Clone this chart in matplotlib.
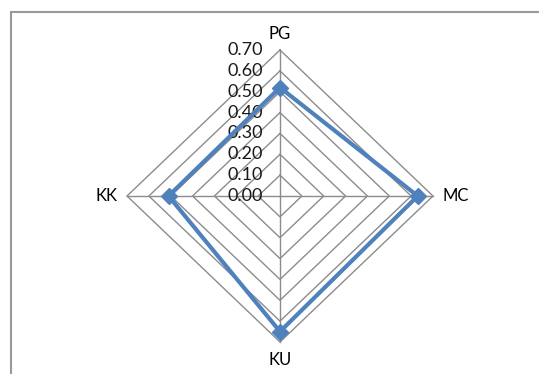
import numpy as np
import matplotlib.pyplot as plt
from matplotlib.patches import Rectangle

plt.rcParams['font.family'] = ['Lato', 'DejaVu Sans']

# radar data
categories = ['PG', 'MC', 'KU', 'KK']
values = [0.52, 0.63, 0.65, 0.51]
levels = [0.00, 0.10, 0.20, 0.30, 0.40, 0.50, 0.60, 0.70]
level_labels = ['%.2f' % v for v in levels]

W, H = 539, 374
fig = plt.figure(figsize=(W / 100, H / 100), dpi=100)
ax = fig.add_axes([0, 0, 1, 1])
ax.set_axis_off()

# pixel layout of the chart area
cx, cy = 280, 178          # centre (px from left / bottom)
rx, ry = 153, 146          # px for the 0.70 ring
rmax = levels[-1]
ax.set_xlim(-cx * rmax / rx, (W - cx) * rmax / rx)
ax.set_ylim(-cy * rmax / ry, (H - cy) * rmax / ry)

# spoke directions: top, right, bottom, left
dirs = np.array([[0, 1], [1, 0], [0, -1], [-1, 0]])

grid_col = '#8c8c8c'
for lv in levels[1:]:
    pts = np.vstack([dirs * lv, dirs[:1] * lv])
    ax.plot(pts[:, 0], pts[:, 1], color=grid_col, lw=1.0, zorder=1)
for d in dirs:
    ax.plot([0, d[0] * rmax], [0, d[1] * rmax], color=grid_col, lw=1.0, zorder=1)

# value axis labels along the top spoke
for lv, lab in zip(levels, level_labels):
    ax.text(-0.08, lv, lab, ha='right', va='center', fontsize=13,
            color='#1a1a1a', zorder=2)

# series
pts = np.array([d * v for d, v in zip(dirs, values)])
closed = np.vstack([pts, pts[:1]])
ax.plot(closed[:, 0], closed[:, 1], color='#4f81bd', lw=3.0, zorder=3,
        solid_joinstyle='miter')
ax.plot(pts[:, 0], pts[:, 1], ls='none', marker='D', ms=8,
        color='#4f81bd', zorder=4)

# category labels
off = 0.045
ax.text(0, rmax + 0.075, categories[0], ha='center', va='center', fontsize=12)
ax.text(rmax + off, 0, categories[1], ha='left', va='center', fontsize=12)
ax.text(0, -rmax - 0.085, categories[2], ha='center', va='center', fontsize=12)
ax.text(-rmax - off, 0, categories[3], ha='right', va='center', fontsize=12)

# chart frame (runs off the right and bottom edges)
fig.add_artist(Rectangle((11 / W, -0.05), 1.1, (H - 12) / H + 0.05,
                         transform=fig.transFigure, fill=False,
                         edgecolor='#9a9a9a', lw=1.5))

fig.savefig('out.png', dpi=100)
